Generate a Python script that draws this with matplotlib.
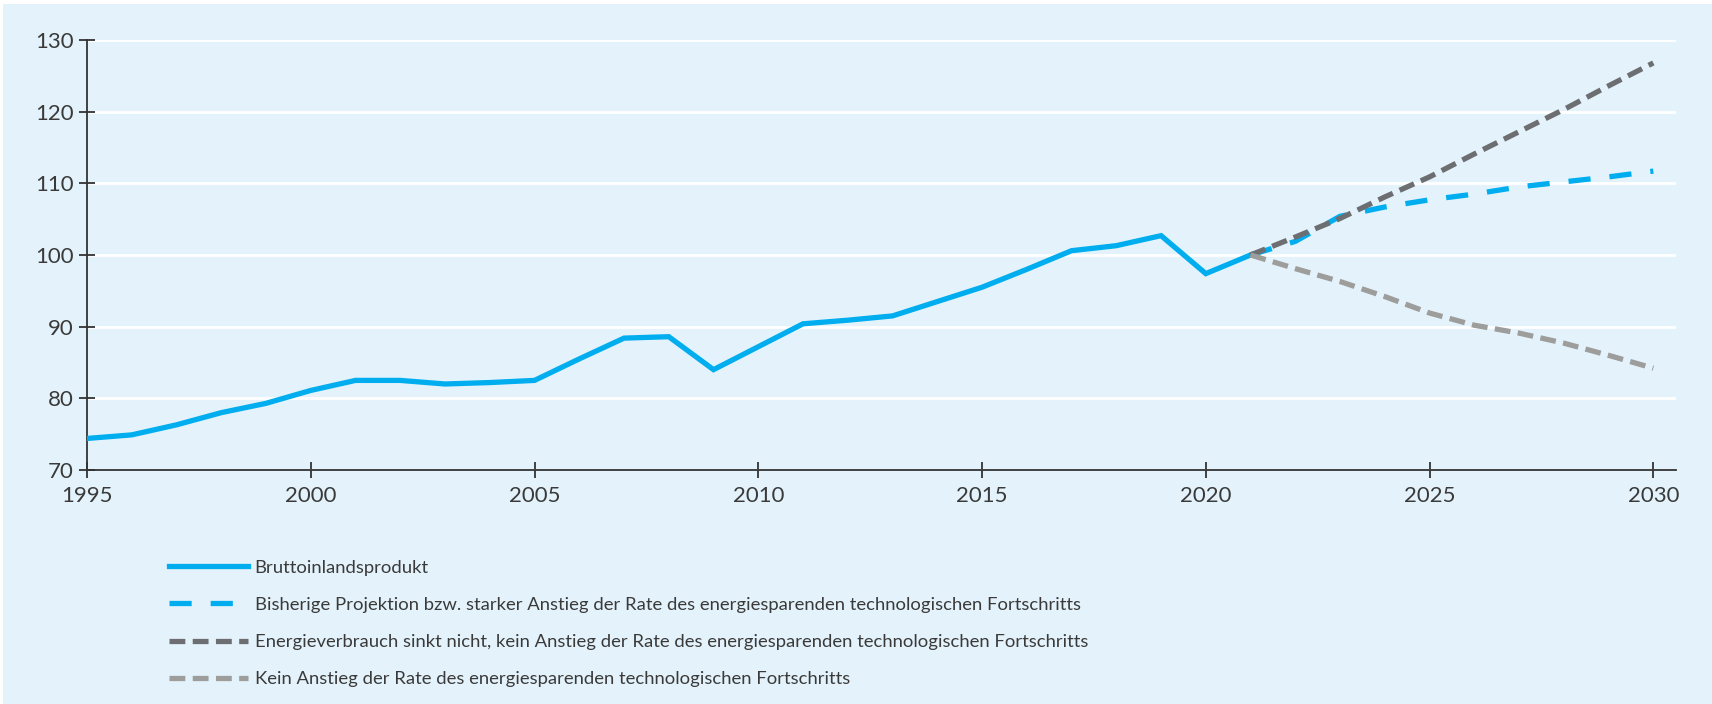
import numpy as np
import matplotlib
matplotlib.use("Agg")
import matplotlib.pyplot as plt
from matplotlib.patches import Rectangle

plt.rcParams['font.family'] = ['Lato', 'DejaVu Sans']

# Bruttoinlandsprodukt, Index 2021 = 100
years_hist = list(range(1995, 2022))
bip = [74.4, 74.9, 76.3, 78.0, 79.3, 81.1, 82.5, 82.5, 82.0, 82.2,
       82.5, 85.5, 88.4, 88.6, 84.0, 87.2, 90.4, 90.9, 91.5, 93.5,
       95.5, 98.0, 100.6, 101.3, 102.7, 97.4, 100.0]

# Szenarien 2021-2030
years_proj = list(range(2021, 2031))
proj_bisher = [100.0, 101.9, 105.4, 106.7, 107.7, 108.5, 109.5, 110.2, 110.9, 111.7]
proj_nicht_sinkend = [100.0, 102.5, 105.1, 108.1, 110.9, 114.1, 117.2, 120.3, 123.6, 126.8]
proj_kein_anstieg = [100.0, 98.1, 96.3, 94.2, 91.9, 90.2, 89.1, 87.7, 86.0, 84.2]

labels = [
    "Bruttoinlandsprodukt",
    "Bisherige Projektion bzw. starker Anstieg der Rate des energiesparenden technologischen Fortschritts",
    "Energieverbrauch sinkt nicht, kein Anstieg der Rate des energiesparenden technologischen Fortschritts",
    "Kein Anstieg der Rate des energiesparenden technologischen Fortschritts",
]
x_ticks = [1995, 2000, 2005, 2010, 2015, 2020, 2025, 2030]
y_ticks = [70, 80, 90, 100, 110, 120, 130]

bg = "#e4f3fb"
blue = "#00aeef"
dark_grey = "#6d6e71"
light_grey = "#9d9d9c"
text_col = "#3a3a3a"

fig = plt.figure(figsize=(17.12, 7.04), dpi=100, facecolor="white")
fig.patches.append(Rectangle((3 / 1712, 0), 1, 1 - 4 / 704, transform=fig.transFigure,
                             facecolor=bg, edgecolor="none", zorder=-10))
ax = fig.add_axes([0.0508, 0.3324, 0.928, 0.6108])
ax.set_facecolor(bg)

lw = 3.8
ax.plot(years_hist, bip, color=blue, lw=lw, solid_joinstyle="miter", label=labels[0], zorder=3)
ax.plot(years_proj, proj_bisher, color=blue, lw=lw, dashes=(4.2, 3.6), label=labels[1], zorder=4)
ax.plot(years_proj, proj_nicht_sinkend, color=dark_grey, lw=lw, dashes=(3.0, 1.4), label=labels[2], zorder=5)
ax.plot(years_proj, proj_kein_anstieg, color=light_grey, lw=lw, dashes=(3.0, 1.4), label=labels[3], zorder=5)

ax.set_xlim(1995, 2030.5)
ax.set_ylim(70, 130)
ax.set_xticks(x_ticks)
ax.set_yticks(y_ticks)
ax.grid(axis="y", color="white", lw=2)
ax.set_axisbelow(True)

for side in ("top", "right"):
    ax.spines[side].set_visible(False)
for side in ("left", "bottom"):
    ax.spines[side].set_color("#333333")
    ax.spines[side].set_linewidth(1.3)

ax.tick_params(axis="both", direction="inout", length=11, width=1.3, color="#333333",
               labelsize=16, labelcolor=text_col)
ax.tick_params(axis="y", pad=4)
ax.tick_params(axis="x", pad=6)

fig.legend(loc="upper left", bbox_to_anchor=(152 / 1712, 1 - 543 / 704), frameon=False,
           fontsize=13.3, handlelength=4.3, handletextpad=0.35, labelspacing=1.15,
           labelcolor=text_col)

fig.savefig("out.png", dpi=100, facecolor=fig.get_facecolor())
